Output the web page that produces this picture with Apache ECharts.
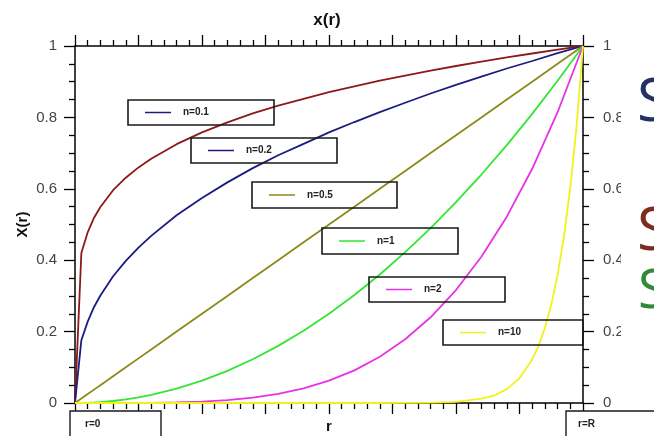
<!DOCTYPE html>
<html>
<head>
<meta charset="utf-8">
<script src="https://cdn.jsdelivr.net/npm/echarts@6/dist/echarts.min.js"></script>
<style>html,body{margin:0;padding:0;background:#fff}#c{width:654px;height:436px}</style>
</head>
<body>
<div id="c"></div>
<script>
// radial position r/R (x axis) shared by the first five curves
const rGrid = [0, 0.0125, 0.025, 0.0375, 0.05, 0.075, 0.1, 0.125, 0.15, 0.2, 0.25, 0.3, 0.35, 0.4, 0.45, 0.5, 0.55, 0.6, 0.65, 0.7, 0.75, 0.8, 0.85, 0.9, 0.95, 1];
// curve values
const curveN01 = [0, 0.42, 0.478, 0.519, 0.549, 0.596, 0.631, 0.660, 0.684, 0.725, 0.758, 0.786, 0.811, 0.833, 0.852, 0.871, 0.887, 0.903, 0.917, 0.931, 0.944, 0.956, 0.968, 0.979, 0.990, 1];
const curveN02 = [0, 0.176, 0.228, 0.269, 0.301, 0.355, 0.398, 0.435, 0.468, 0.526, 0.574, 0.618, 0.658, 0.694, 0.726, 0.758, 0.787, 0.815, 0.841, 0.867, 0.891, 0.914, 0.937, 0.958, 0.980, 1];
const curveN05 = [0, 0.0125, 0.025, 0.0375, 0.05, 0.075, 0.1, 0.125, 0.15, 0.2, 0.25, 0.3, 0.35, 0.4, 0.45, 0.5, 0.55, 0.6, 0.65, 0.7, 0.75, 0.8, 0.85, 0.9, 0.95, 1];
const curveN1 = [0, 0.0002, 0.0006, 0.0014, 0.0025, 0.0056, 0.01, 0.0156, 0.0225, 0.04, 0.0625, 0.09, 0.1225, 0.16, 0.2025, 0.25, 0.3025, 0.36, 0.4225, 0.49, 0.5625, 0.64, 0.7225, 0.81, 0.9025, 1];
const curveN2 = [0, 0, 0, 0, 0, 0, 0.0001, 0.0002, 0.0005, 0.0016, 0.0039, 0.0081, 0.015, 0.0256, 0.041, 0.0625, 0.0915, 0.1296, 0.1785, 0.2401, 0.3164, 0.4096, 0.522, 0.6561, 0.8145, 1];
// the steep curve has its own r positions
const rN10 = [0, 0.5, 0.6, 0.7, 0.75, 0.8, 0.825, 0.85, 0.875, 0.9, 0.9125, 0.925, 0.9375, 0.95, 0.9625, 0.975, 0.9875, 1];
const curveN10 = [0, 0, 0, 0.001, 0.003, 0.012, 0.021, 0.039, 0.069, 0.122, 0.160, 0.210, 0.275, 0.359, 0.466, 0.603, 0.778, 1];

const seriesNames = ['n=0.1', 'n=0.2', 'n=0.5', 'n=1', 'n=2', 'n=10'];
const curveColors = ['#8b1a1a', '#1c1c80', '#8c8a1a', '#33e633', '#e633e6', '#f2f21a'];
const legendSwatch = ['#1c1c80', '#1c1c80', '#8c8a1a', '#33e633', '#e633e6', '#f2f21a'];
const yTicks = ['0', '0.2', '0.4', '0.6', '0.8', '1'];

const xs = [rGrid, rGrid, rGrid, rGrid, rGrid, rN10];
const ys = [curveN01, curveN02, curveN05, curveN1, curveN2, curveN10];

const chart = echarts.init(document.getElementById('c'), null, {renderer: 'canvas'});

const tickStyle = {color: '#000', width: 1.3};
function xAx(pos, withName) {
  return {
    type: 'value', min: 0, max: 1, interval: 0.125, position: pos,
    axisLine: {show: true, onZero: false, lineStyle: {color: '#000', width: 1.5}},
    axisTick: {show: true, inside: false, length: 11, lineStyle: tickStyle},
    minorTick: {show: true, splitNumber: 5, length: 6, lineStyle: tickStyle},
    axisLabel: {show: false}, splitLine: {show: false}, minorSplitLine: {show: false},
    name: withName ? 'r' : '', nameLocation: 'middle', nameGap: 16, nameMoveOverlap: false,
    nameTextStyle: {fontWeight: 'bold', fontSize: 15, color: '#111', fontFamily: 'Liberation Sans'}
  };
}
function yAx(pos, withName) {
  return {
    type: 'value', min: 0, max: 1, interval: 0.2, position: pos,
    axisLine: {show: true, onZero: false, lineStyle: {color: '#000', width: 1.5}},
    axisTick: {show: true, inside: false, length: 11, lineStyle: tickStyle},
    minorTick: {show: true, splitNumber: 4, length: 6, lineStyle: tickStyle},
    axisLabel: {show: true, margin: pos === 'right' ? 20 : 18, fontSize: 15, color: '#444', fontFamily: 'Liberation Sans',
      formatter: v => yTicks[Math.round(v / 0.2)]},
    splitLine: {show: false}, minorSplitLine: {show: false},
    name: withName ? 'X(r)' : '', nameLocation: 'middle', nameGap: 45, nameRotate: 90, nameMoveOverlap: false,
    nameTextStyle: {fontWeight: 'bold', fontSize: 15, color: '#111', fontFamily: 'Liberation Sans'}
  };
}

const series = seriesNames.map((nm, i) => ({
  name: nm, type: 'line', xAxisIndex: 0, yAxisIndex: 0,
  data: xs[i].map((r, k) => [r, ys[i][k]]),
  showSymbol: false, smooth: false,
  lineStyle: {color: curveColors[i], width: 1.8}, itemStyle: {color: curveColors[i]},
  z: 3
}));

// legend boxes (annotation boxes as in the picture)
const boxes = [
  {x: 128, y: 100, w: 146, h: 25},
  {x: 191, y: 138, w: 146, h: 25},
  {x: 252, y: 182, w: 145, h: 26},
  {x: 322, y: 228, w: 136, h: 26},
  {x: 369, y: 277, w: 136, h: 25},
  {x: 443, y: 320, w: 140, h: 25}
];
const graphics = [];
boxes.forEach((b, i) => {
  graphics.push({type: 'rect', shape: {x: b.x, y: b.y, width: b.w, height: b.h},
    style: {fill: 'rgba(0,0,0,0)', stroke: '#1a1a1a', lineWidth: 1.6}, z: 10});
  graphics.push({type: 'line', shape: {x1: b.x + 17, y1: b.y + b.h / 2, x2: b.x + 43, y2: b.y + b.h / 2},
    style: {stroke: legendSwatch[i], lineWidth: 1.5}, z: 10});
  graphics.push({type: 'text', x: b.x + 55, y: b.y + b.h / 2,
    style: {text: seriesNames[i], fontSize: 10, fontWeight: 'bold', fill: '#222',
      fontFamily: 'Liberation Sans', verticalAlign: 'middle', align: 'left'}, z: 10});
});
// r=0 and r=R boxes under the axis
graphics.push({type: 'rect', shape: {x: 70, y: 411, width: 91, height: 30},
  style: {fill: '#fff', stroke: '#1a1a1a', lineWidth: 1.4}, z: 10});
graphics.push({type: 'text', x: 85, y: 424, style: {text: 'r=0', fontSize: 10, fontWeight: 'bold', fill: '#222',
  fontFamily: 'Liberation Sans', verticalAlign: 'middle'}, z: 11});
graphics.push({type: 'rect', shape: {x: 566, y: 411, width: 100, height: 30},
  style: {fill: '#fff', stroke: '#1a1a1a', lineWidth: 1.4}, z: 10});
graphics.push({type: 'text', x: 578, y: 424, style: {text: 'r=R', fontSize: 10, fontWeight: 'bold', fill: '#222',
  fontFamily: 'Liberation Sans', verticalAlign: 'middle'}, z: 11});
// pasted fragment on the right edge
graphics.push({type: 'rect', shape: {x: 621, y: 60, width: 40, height: 285}, style: {fill: '#fff'}, z: 20});
graphics.push({type: 'text', x: 637, y: 104, style: {text: 'S', fontSize: 60, fontWeight: 'normal', fill: '#233266',
  fontFamily: 'Open Sans', verticalAlign: 'middle'}, z: 21});
graphics.push({type: 'text', x: 637, y: 233, style: {text: 'S', fontSize: 60, fontWeight: 'normal', fill: '#7a2e22',
  fontFamily: 'Open Sans', verticalAlign: 'middle'}, z: 21});
graphics.push({type: 'text', x: 638, y: 293, style: {text: 'S', fontSize: 54, fontWeight: 'normal', fill: '#2f8a3a',
  fontFamily: 'Open Sans', verticalAlign: 'middle'}, z: 21});

chart.setOption({
  animation: false,
  backgroundColor: '#fff',
  title: {text: 'x(r)', left: 'center', top: 7,
    textStyle: {fontSize: 17, fontWeight: 'bold', color: '#111', fontFamily: 'Liberation Sans'}},
  grid: {left: 75, right: 71, top: 46, bottom: 33, containLabel: false, outerBoundsMode: 'none'},
  xAxis: [xAx('bottom', true), xAx('top', false)],
  yAxis: [yAx('left', true), yAx('right', false)],
  series: series,
  graphic: graphics
});
</script>
</body>
</html>
